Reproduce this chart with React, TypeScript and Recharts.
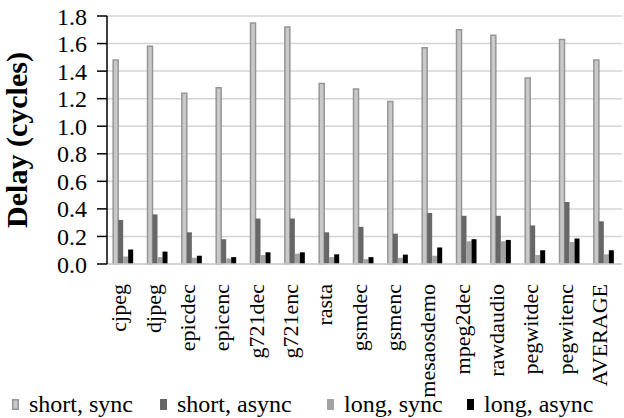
import { BarChart, Bar, XAxis, YAxis, CartesianGrid, Legend } from 'recharts';

const categories = [
  'cjpeg', 'djpeg', 'epicdec', 'epicenc', 'g721dec', 'g721enc', 'rasta', 'gsmdec',
  'gsmenc', 'mesaosdemo', 'mpeg2dec', 'rawdaudio', 'pegwitdec', 'pegwitenc', 'AVERAGE',
];
const shortSync = [1.48, 1.58, 1.24, 1.28, 1.75, 1.72, 1.31, 1.27, 1.18, 1.57, 1.70, 1.66, 1.35, 1.63, 1.48];
const shortAsync = [0.32, 0.36, 0.23, 0.18, 0.33, 0.33, 0.23, 0.27, 0.22, 0.37, 0.35, 0.35, 0.28, 0.45, 0.31];
const longSync = [0.055, 0.05, 0.045, 0.04, 0.065, 0.075, 0.05, 0.035, 0.045, 0.06, 0.165, 0.165, 0.065, 0.16, 0.07];
const longAsync = [0.105, 0.09, 0.06, 0.05, 0.085, 0.085, 0.07, 0.05, 0.068, 0.12, 0.18, 0.175, 0.10, 0.185, 0.10];
const yTicks = [0, 0.2, 0.4, 0.6, 0.8, 1.0, 1.2, 1.4, 1.6, 1.8];

const data = categories.map((name, i) => ({
  name,
  shortSync: shortSync[i],
  shortAsync: shortAsync[i],
  longSync: longSync[i],
  longAsync: longAsync[i],
}));

const FONT = "'Liberation Serif', 'Times New Roman', serif";

const series = [
  { key: 'shortSync', label: 'short, sync', fill: '#c9c9c9', stroke: '#959595' },
  { key: 'shortAsync', label: 'short, async', fill: '#676767', stroke: '#676767' },
  { key: 'longSync', label: 'long, sync', fill: '#a3a3a3', stroke: '#a3a3a3' },
  { key: 'longAsync', label: 'long, async', fill: '#000000', stroke: '#000000' },
];
// left edge of each legend entry
const legendLeft = [12, 160, 327, 467];

const XTick = ({ x, y, payload }: any) => (
  <text
    x={x}
    y={y}
    transform={`rotate(-90, ${x}, ${y})`}
    textAnchor="end"
    dy="0.1em"
    fontFamily={FONT}
    fontSize={22}
    fill="#000"
  >
    {payload.value}
  </text>
);

const YLabel = ({ viewBox }: any) => {
  const cy = viewBox.y + viewBox.height / 2;
  return (
    <text
      x={27}
      y={cy}
      transform={`rotate(-90, 27, ${cy})`}
      textAnchor="middle"
      fontFamily={FONT}
      fontWeight="bold"
      fontSize={30}
      fill="#000"
    >
      Delay (cycles)
    </text>
  );
};

const LegendContent = () => (
  <div style={{ position: 'relative', height: 28, whiteSpace: 'nowrap', fontFamily: FONT, fontSize: 24, color: '#000', lineHeight: '28px' }}>
    {series.map((s, i) => (
      <div key={s.key} style={{ position: 'absolute', left: legendLeft[i], top: 0, display: 'flex', alignItems: 'center' }}>
        <svg width={7} height={11} style={{ marginRight: 10 }}>
          <rect x={0.75} y={0.75} width={5.5} height={9.5} fill={s.fill} stroke={s.stroke} strokeWidth={1.5} />
        </svg>
        <span>{s.label}</span>
      </div>
    ))}
  </div>
);

export default function App() {
  return (
    <div style={{ position: 'absolute', left: 0, top: 0, background: '#fff' }}>
      <BarChart
        width={624}
        height={418}
        data={data}
        margin={{ top: 16, right: 2, left: 0, bottom: 0 }}
        barCategoryGap="18%"
        barGap={0}
      >
        <CartesianGrid vertical={false} stroke="#d4d4d4" strokeWidth={1.5} />
        <XAxis
          dataKey="name"
          interval={0}
          tick={<XTick />}
          tickLine={false}
          axisLine={{ stroke: '#cfcfcf', strokeWidth: 1.5 }}
          height={126}
          tickMargin={14}
        />
        <YAxis
          domain={[0, 1.8]}
          ticks={yTicks}
          interval={0}
          tickFormatter={(v: number) => v.toFixed(1)}
          width={107}
          tickSize={10}
          tickMargin={10}
          axisLine={{ stroke: '#000', strokeWidth: 1.5 }}
          tickLine={{ stroke: '#000', strokeWidth: 1.5 }}
          tick={{ fontFamily: FONT, fontSize: 24, fill: '#000' }}
          label={<YLabel />}
        />
        <Legend content={<LegendContent />} verticalAlign="bottom" />
        {series.map((s) => (
          <Bar
            key={s.key}
            dataKey={s.key}
            fill={s.fill}
            stroke={s.stroke}
            strokeWidth={s.key === 'shortSync' ? 1.5 : 0}
            isAnimationActive={false}
          />
        ))}
      </BarChart>
    </div>
  );
}
